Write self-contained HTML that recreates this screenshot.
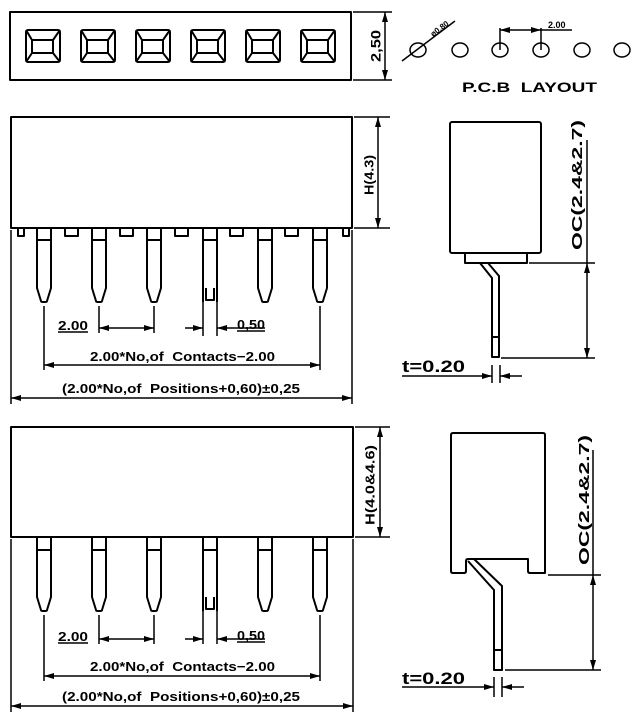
<!DOCTYPE html>
<html><head><meta charset="utf-8"><style>
html,body{margin:0;padding:0;background:#fff;}
svg{display:block;}
text{font-family:"Liberation Sans",sans-serif;font-weight:bold;fill:#000;}
</style></head><body>
<svg width="640" height="724" viewBox="0 0 640 724" xmlns="http://www.w3.org/2000/svg">
<defs>
<marker id="a" viewBox="0 0 10 6" refX="10" refY="3" markerWidth="10" markerHeight="6" markerUnits="userSpaceOnUse" orient="auto-start-reverse"><path d="M0 0L10 3L0 6z" fill="#000"/></marker>
</defs>
<g fill="none" stroke="#000" stroke-width="2" stroke-linejoin="round">
<rect x="10" y="12" width="341" height="68"/>
<g id="sq"><rect x="26" y="30" width="34" height="32" rx="2"/><rect x="32" y="40" width="21" height="13"/><path d="M26 30L32 40M60 30L53 40M26 62L32 53M60 62L53 53"/></g>
<use href="#sq" x="55"/><use href="#sq" x="110"/><use href="#sq" x="165"/><use href="#sq" x="220"/><use href="#sq" x="275"/>
</g>
<g fill="none" stroke="#000" stroke-width="1.5">
<path d="M353 12H392M353 80H392"/>
<line x1="385" y1="12" x2="385" y2="80" marker-start="url(#a)" marker-end="url(#a)"/>
<ellipse cx="418" cy="50" rx="8" ry="7"/><ellipse cx="460" cy="50" rx="8" ry="7"/><ellipse cx="500" cy="50" rx="8" ry="7"/><ellipse cx="541" cy="50" rx="8" ry="7"/><ellipse cx="582" cy="50" rx="8" ry="7"/><ellipse cx="622" cy="50" rx="8" ry="7"/>
<path d="M402 61L455 21M500 28V50M541 28V50M541 30H572"/>
<line x1="500" y1="30" x2="541" y2="30" marker-start="url(#a)" marker-end="url(#a)"/>
</g>
<text font-size="14" textLength="32" lengthAdjust="spacingAndGlyphs" transform="translate(377 46) rotate(-90)" text-anchor="middle" dominant-baseline="middle">2,50</text>
<text font-size="8" transform="translate(433 37) rotate(-37)">ø0.80</text>
<text x="548" y="28" font-size="9">2.00</text>
<text x="462" y="92" font-size="14" textLength="135" lengthAdjust="spacingAndGlyphs">P.C.B&#160;&#160;LAYOUT</text>

<g fill="none" stroke="#000" stroke-width="2" stroke-linejoin="round">
<rect x="11" y="117" width="341" height="111"/>
<path d="M18 228V236H24V228M65 228V236H78V228M120 228V236H133V228M175 228V236H188V228M230 228V236H243V228M285 228V236H298V228M343 228V236H349V228"/>
<g id="p1"><path d="M37 228V288L41 301Q41 302 43 302H45Q47 302 47 301L51 288V228M37 240H51"/></g>
<use href="#p1" x="55"/><use href="#p1" x="110"/><use href="#p1" x="221"/><use href="#p1" x="276"/>
<path d="M203 228V302M217 228V302M203 240H217M206 288V300H214V288"/>
</g>
<g fill="none" stroke="#000" stroke-width="1.5">
<path d="M44 306V370M99 306V333M154 306V333M320 306V370M203 302V336M217 302V336M11 230V404M352 230V404M354 117H390M354 228H390M58 332H88M237 331H265"/>
<line x1="99" y1="328" x2="154" y2="328" marker-start="url(#a)" marker-end="url(#a)"/>
<line x1="185" y1="328" x2="203" y2="328" marker-end="url(#a)"/>
<line x1="265" y1="328" x2="217" y2="328" marker-end="url(#a)"/>
<line x1="44" y1="365" x2="320" y2="365" marker-start="url(#a)" marker-end="url(#a)"/>
<line x1="11" y1="398" x2="352" y2="398" marker-start="url(#a)" marker-end="url(#a)"/>
<line x1="378" y1="117" x2="378" y2="228" marker-start="url(#a)" marker-end="url(#a)"/>
</g>
<text x="58" y="330" font-size="13" textLength="30" lengthAdjust="spacingAndGlyphs">2.00</text>
<text x="237" y="329" font-size="13" textLength="28" lengthAdjust="spacingAndGlyphs">0,50</text>
<text x="90" y="361" font-size="13" textLength="185" lengthAdjust="spacingAndGlyphs">2.00*No,of&#160;&#160;Contacts−2.00</text>
<text x="62" y="393" font-size="13" textLength="238" lengthAdjust="spacingAndGlyphs">(2.00*No,of&#160;&#160;Positions+0,60)±0,25</text>
<text font-size="13" textLength="40" lengthAdjust="spacingAndGlyphs" transform="translate(370 175) rotate(-90)" text-anchor="middle" dominant-baseline="middle">H(4.3)</text>

<g fill="none" stroke="#000" stroke-width="2" stroke-linejoin="round">
<rect x="450" y="122" width="91" height="131" rx="2"/>
<rect x="465" y="253" width="62" height="10"/>
<path d="M480 263L492 278V357H499V276L488 263M492 337H499"/>
</g>
<g fill="none" stroke="#000" stroke-width="1.5">
<path d="M529 263H595M501 358H595M587 140V263M402 376H470M492 365V383M500 365V383"/>
<line x1="587" y1="263" x2="587" y2="358" marker-start="url(#a)" marker-end="url(#a)"/>
<line x1="470" y1="376" x2="492" y2="376" marker-end="url(#a)"/>
<line x1="522" y1="376" x2="500" y2="376" marker-end="url(#a)"/>
</g>
<text font-size="15" textLength="130" lengthAdjust="spacingAndGlyphs" transform="translate(578 185) rotate(-90)" text-anchor="middle" dominant-baseline="middle">OC(2.4&amp;2.7)</text>
<text x="402" y="372" font-size="17" textLength="63" lengthAdjust="spacingAndGlyphs">t=0.20</text>

<g fill="none" stroke="#000" stroke-width="2" stroke-linejoin="round">
<rect x="11" y="427" width="342" height="110"/>
<g id="p2"><path d="M37 537V597L41 610Q41 611 43 611H45Q47 611 47 610L51 597V537M37 550H51"/></g>
<use href="#p2" x="55"/><use href="#p2" x="110"/><use href="#p2" x="221"/><use href="#p2" x="276"/>
<path d="M203 537V611M217 537V611M203 550H217M206 597V609H214V597"/>
</g>
<g fill="none" stroke="#000" stroke-width="1.5">
<path d="M44 615V681M99 615V644M154 615V644M320 615V681M203 611V644M217 611V644M11 539V712M353 539V712M355 427H390M355 537H390M58 643H88M237 642H265"/>
<line x1="99" y1="639" x2="154" y2="639" marker-start="url(#a)" marker-end="url(#a)"/>
<line x1="185" y1="639" x2="203" y2="639" marker-end="url(#a)"/>
<line x1="265" y1="639" x2="217" y2="639" marker-end="url(#a)"/>
<line x1="44" y1="676" x2="320" y2="676" marker-start="url(#a)" marker-end="url(#a)"/>
<line x1="11" y1="706" x2="353" y2="706" marker-start="url(#a)" marker-end="url(#a)"/>
<line x1="380" y1="427" x2="380" y2="537" marker-start="url(#a)" marker-end="url(#a)"/>
</g>
<text x="58" y="641" font-size="13" textLength="30" lengthAdjust="spacingAndGlyphs">2.00</text>
<text x="237" y="640" font-size="13" textLength="28" lengthAdjust="spacingAndGlyphs">0,50</text>
<text x="90" y="671" font-size="13" textLength="185" lengthAdjust="spacingAndGlyphs">2.00*No,of&#160;&#160;Contacts−2.00</text>
<text x="62" y="701" font-size="13" textLength="238" lengthAdjust="spacingAndGlyphs">(2.00*No,of&#160;&#160;Positions+0,60)±0,25</text>
<text font-size="13" textLength="80" lengthAdjust="spacingAndGlyphs" transform="translate(371 485) rotate(-90)" text-anchor="middle" dominant-baseline="middle">H(4.0&amp;4.6)</text>

<g fill="none" stroke="#000" stroke-width="2" stroke-linejoin="round">
<path d="M453 433H543Q545 433 545 435V573H530Q528 573 528 571V559H468Q466 559 466 561V571Q466 573 464 573H453Q451 573 451 571V435Q451 433 453 433Z"/>
<path d="M468 561L494 590V670H502V586L474 559M494 650H502"/>
</g>
<g fill="none" stroke="#000" stroke-width="1.5">
<path d="M548 575H601M505 670H601M593 450V575M402 687H472M494 677V697M502 677V697"/>
<line x1="593" y1="575" x2="593" y2="670" marker-start="url(#a)" marker-end="url(#a)"/>
<line x1="472" y1="687" x2="494" y2="687" marker-end="url(#a)"/>
<line x1="524" y1="687" x2="502" y2="687" marker-end="url(#a)"/>
</g>
<text font-size="15" textLength="130" lengthAdjust="spacingAndGlyphs" transform="translate(585 500) rotate(-90)" text-anchor="middle" dominant-baseline="middle">OC(2.4&amp;2.7)</text>
<text x="402" y="684" font-size="17" textLength="63" lengthAdjust="spacingAndGlyphs">t=0.20</text>
</svg>
</body></html>
